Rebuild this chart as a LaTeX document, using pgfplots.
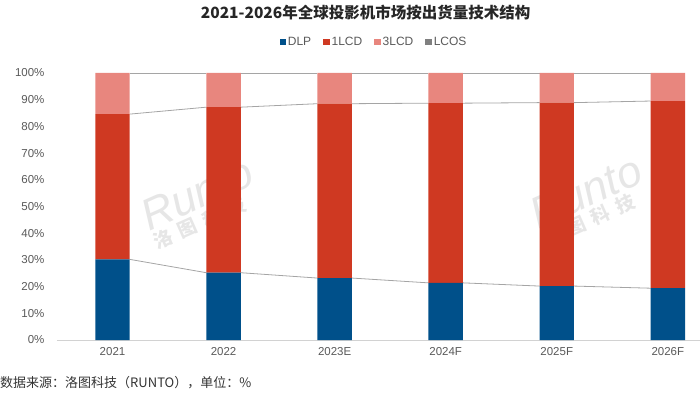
\documentclass[border=0pt]{standalone}
\usepackage{pgfplots}
\pgfplotsset{compat=1.18}
\usepackage{pgfplotstable}
\usepackage{fontspec}
\setmainfont{Liberation Sans}
\newfontfamily\cjk{Noto Sans CJK SC}
\newfontfamily\cjkwide[LetterSpace=40]{Noto Sans CJK SC}
\definecolor{dlp}{RGB}{0,80,138}
\definecolor{lcdone}{RGB}{207,57,34}
\definecolor{lcdthree}{RGB}{232,134,126}
\definecolor{lcos}{RGB}{128,128,128}
\definecolor{ticktext}{RGB}{89,89,89}
\definecolor{serline}{RGB}{165,165,165}
\pgfplotstableread{
x DLP LCDone LCDthree LCOS
0 30.2 54.4 15.4 0
1 25.2 62.0 12.8 0
2 23.2 65.3 11.5 0
3 21.4 67.3 11.3 0
4 20.2 68.7 11.1 0
5 19.4 70.1 10.5 0
}\datatable
\begin{document}
\begin{tikzpicture}
\useasboundingbox (-57pt,-53pt) rectangle (643pt,340pt);
\pgfplotsset{common/.style={
  scale only axis, width=643pt, height=267pt,
  xmin=-0.5, xmax=5.29, ymin=0, ymax=100,
}}
% series lines
\begin{axis}[common, hide axis, unbounded coords=jump]
\addplot[serline, line width=0.8pt] coordinates {(0.155,30.2) (0.845,25.2) (1,nan) (1.155,25.2) (1.845,23.2) (2,nan) (2.155,23.2) (2.845,21.4) (3,nan) (3.155,21.4) (3.845,20.2) (4,nan) (4.155,20.2) (4.845,19.4)};
\addplot[serline, line width=0.8pt] coordinates {(0.155,84.6) (0.845,87.2) (1,nan) (1.155,87.2) (1.845,88.5) (2,nan) (2.155,88.5) (2.845,88.7) (3,nan) (3.155,88.7) (3.845,88.9) (4,nan) (4.155,88.9) (4.845,89.5)};
\addplot[serline, line width=0.8pt] coordinates {(0.155,100) (0.845,100) (1,nan) (1.155,100) (1.845,100) (2,nan) (2.155,100) (2.845,100) (3,nan) (3.155,100) (3.845,100) (4,nan) (4.155,100) (4.845,100)};
\end{axis}
\begin{axis}[common,
  ybar stacked, bar width=0.31,
  axis line style={draw=none},
  major tick length=0pt,
  xtick={0,...,5},
  xticklabels={2021,2022,2023E,2024F,2025F,2026F},
  ytick={0,10,...,100},
  yticklabel={\pgfmathprintnumber{\tick}\%},
  /pgf/number format/assume math mode=true,
  tick label style={font=\fontsize{11.5}{13}\selectfont, text=ticktext},
  yticklabel style={xshift=-9pt},
  xticklabel style={yshift=-4pt},
  extra y ticks={0}, extra y tick labels={},
  extra y tick style={grid=major, grid style={draw=gray!35, line width=0.8pt}},
  legend style={at={(0.493,1.116)}, anchor=center, draw=none, fill=none,
    legend columns=-1, font=\fontsize{12}{13}\selectfont, text=ticktext,
    /tikz/every even column/.append style={column sep=10pt}},
  legend image code/.code={\fill[#1] (0pt,-3.2pt) rectangle (6.4pt,3.2pt);},
  clip=false,
]
\addplot[fill=dlp, draw=none] table[x=x, y=DLP] {\datatable};
\addplot[fill=lcdone, draw=none] table[x=x, y=LCDone] {\datatable};
\addplot[fill=lcdthree, draw=none] table[x=x, y=LCDthree] {\datatable};
\addplot[fill=lcos, draw=none] table[x=x, y=LCOS] {\datatable};
\legend{DLP,1LCD,3LCD,LCOS}
% watermarks
\node[rotate=24, text=gray!35, opacity=0.55, align=left, inner sep=0pt] at (axis cs:0.8,51) {{\fontsize{44}{40}\selectfont\itshape Runto}\\[2pt]{\cjkwide\bfseries\fontsize{19}{19}\selectfont 洛图科技}};
\node[rotate=24, text=gray!35, opacity=0.55, align=left, inner sep=0pt] at (axis cs:4.3,52) {{\fontsize{44}{40}\selectfont\itshape Runto}\\[2pt]{\cjkwide\bfseries\fontsize{19}{19}\selectfont 洛图科技}};
% title and source
\node[font=\cjk\bfseries\fontsize{15.5}{17}\selectfont, text=black!85] at (rel axis cs:0.48,1.228) {2021-2026年全球投影机市场按出货量技术结构};
\node[anchor=west, inner sep=0pt, font=\cjk\fontsize{13}{14}\selectfont, text=black!80] at (rel axis cs:-0.0886,-0.161) {数据来源：洛图科技（RUNTO），单位：\%};
\end{axis}
\end{tikzpicture}
\end{document}
